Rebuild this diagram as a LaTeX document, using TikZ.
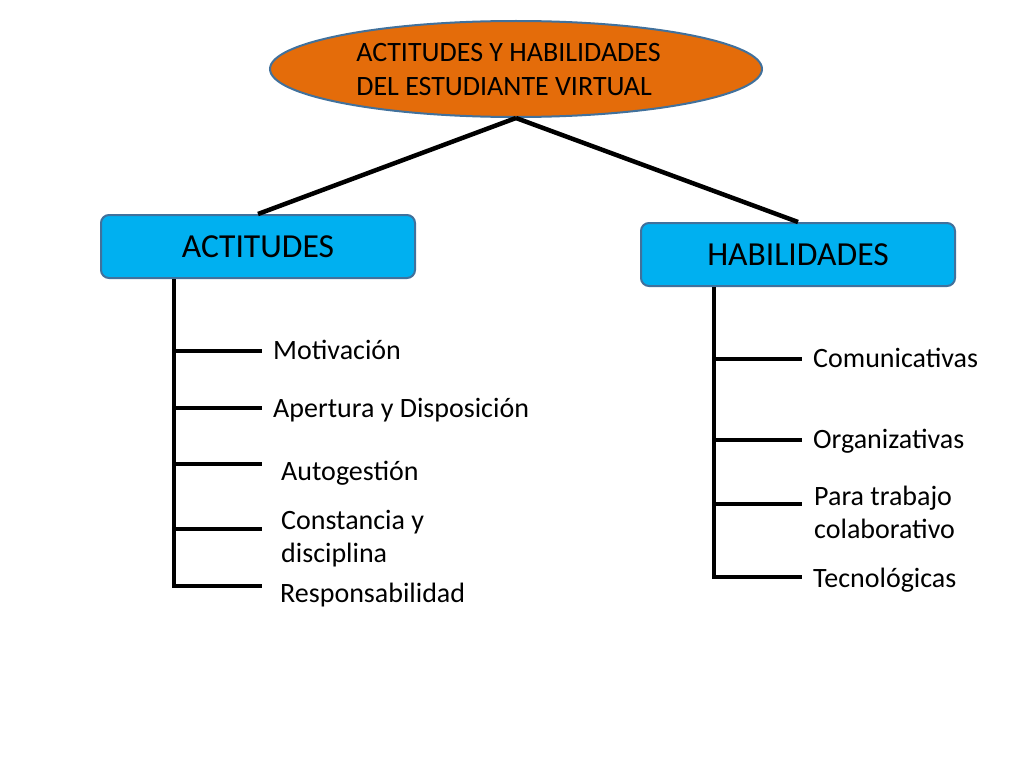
\documentclass[tikz,border=0pt]{standalone}
\usepackage{fontspec}
\setmainfont{Carlito}
\usetikzlibrary{shapes.geometric}
\definecolor{orangefill}{RGB}{228,108,10}
\definecolor{boxblue}{RGB}{0,176,240}
\definecolor{edgeblue}{RGB}{65,113,156}
\begin{document}
\begin{tikzpicture}[x=1pt,y=-1pt,
  conn/.style={line width=4.5pt, black},
  topbox/.style={draw=edgeblue, line width=2pt, fill=boxblue, rounded corners=8pt,
    minimum width=314pt, minimum height=63pt, inner sep=0pt,
    font=\fontsize{33.6}{40}\selectfont},
  leaf/.style={anchor=base west, align=left, inner sep=0pt,
    font=\fontsize{28}{33}\selectfont},
]
\useasboundingbox (0,0) rectangle (1024,768);
\fill[white] (0,0) rectangle (1024,768);

% title
\node[ellipse, draw=edgeblue, line width=2pt, fill=orangefill,
      minimum width=492pt, minimum height=96pt, inner sep=0pt] (title) at (516,69) {};
\node[align=left, inner sep=0pt, font=\fontsize{28}{34}\selectfont] (titletxt) at (508.5,70)
  {ACTITUDES Y HABILIDADES\\DEL ESTUDIANTE VIRTUAL};

% boxes
\node[topbox] (act) at (258,246.5) {ACTITUDES};
\node[topbox] (hab) at (798,254.5) {HABILIDADES};

\draw[conn] (title.south) -- (act.north);
\draw[conn] (title.south) -- (hab.north);

% left tree
\coordinate (a1) at (174,351);  \coordinate (e1) at (262,351);
\coordinate (a2) at (174,408);  \coordinate (e2) at (262,408);
\coordinate (a3) at (174,464);  \coordinate (e3) at (262,464);
\coordinate (a4) at (174,529);  \coordinate (e4) at (262,529);
\coordinate (a5) at (174,586);  \coordinate (e5) at (262,586);
\draw[conn] (act.south -| a5) -- (a5) -- (e5);
\foreach \i in {1,2,3,4} \draw[conn] (a\i) -- (e\i);

\node[leaf] (l1) at (273,359) {Motivación};
\node[leaf] (l2) at (273,417) {Apertura y Disposición};
\node[leaf] (l3) at (281,480) {Autogestión};
\node[leaf] (l4) at (281,562) {Constancia y\\disciplina};
\node[leaf] (l5) at (280,602) {Responsabilidad};

% right tree
\coordinate (b1) at (714,359);  \coordinate (f1) at (802,359);
\coordinate (b2) at (714,440);  \coordinate (f2) at (802,440);
\coordinate (b3) at (714,504);  \coordinate (f3) at (802,504);
\coordinate (b4) at (714,577);  \coordinate (f4) at (802,577);
\draw[conn] (hab.south -| b4) -- (b4) -- (f4);
\foreach \i in {1,2,3} \draw[conn] (b\i) -- (f\i);

\node[leaf] (r1) at (813,367) {Comunicativas};
\node[leaf] (r2) at (813,448) {Organizativas};
\node[leaf] (r3) at (814,538) {Para trabajo\\colaborativo};
\node[leaf] (r4) at (813,587) {Tecnológicas};
\end{tikzpicture}
\end{document}
